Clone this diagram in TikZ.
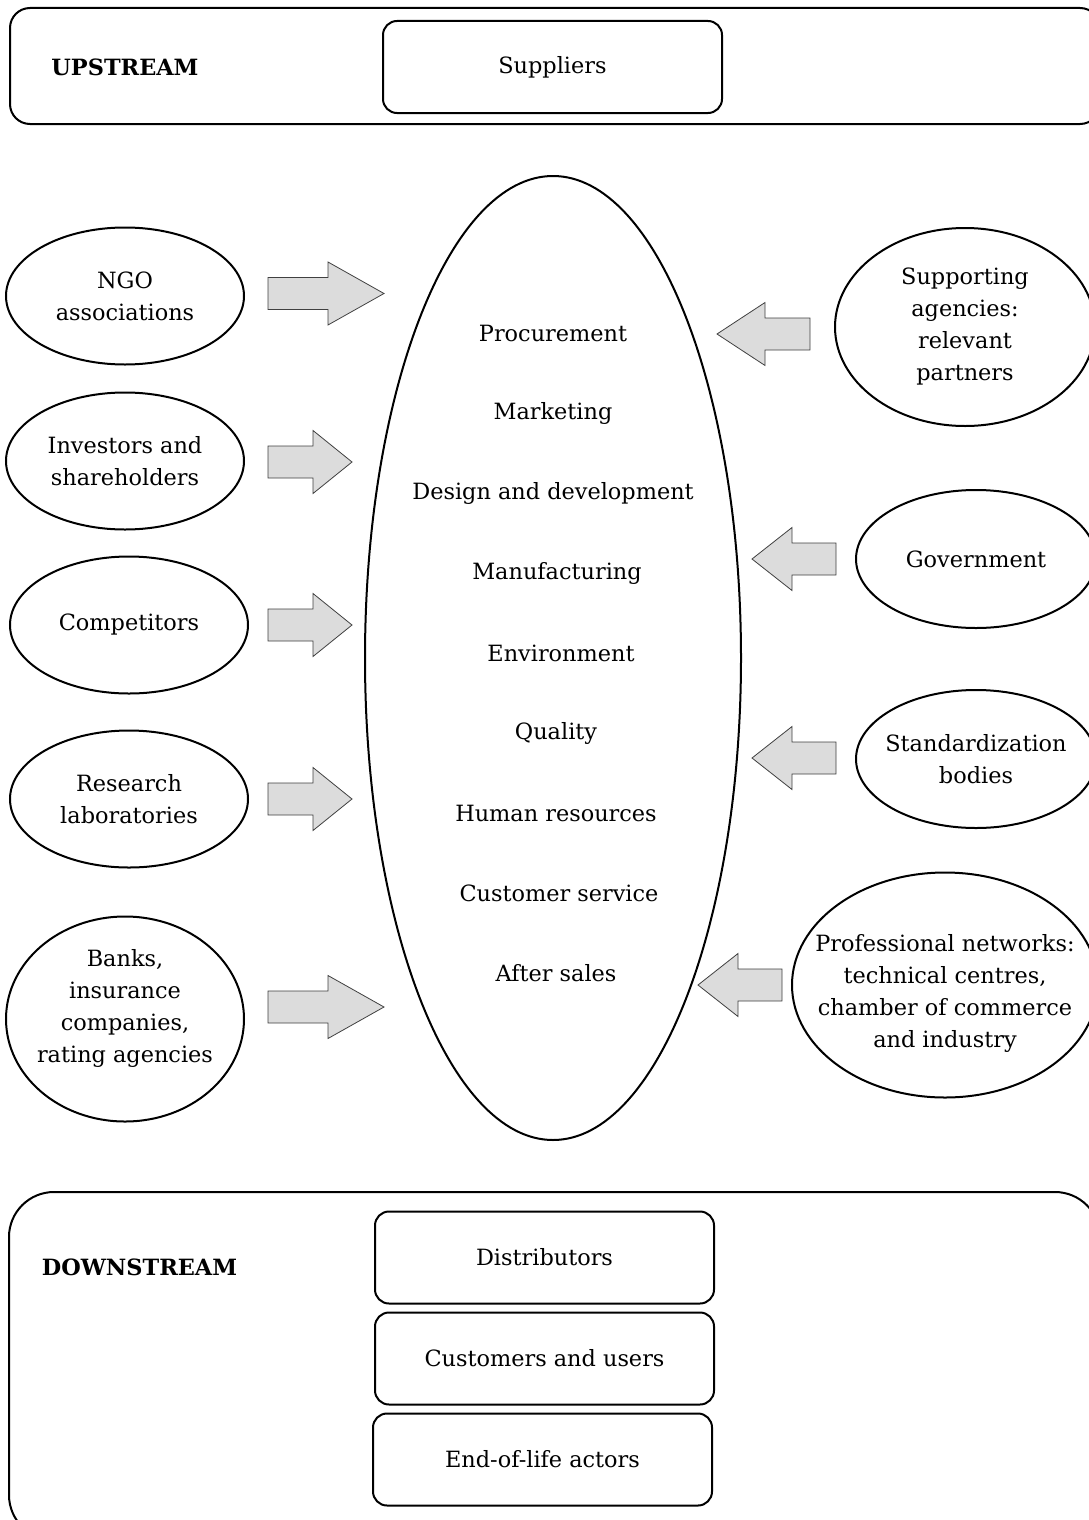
\documentclass[tikz,border=0pt]{standalone}
\usepackage{fontspec}
\setmainfont{DejaVu Serif}
\usetikzlibrary{positioning,shapes.geometric}
\definecolor{arrowgray}{RGB}{220,220,220}
% block arrow: tail x, head base x, tip x, middle y
\newcommand{\blockarrow}[4]{%
  \draw[blockarr] (#1,#4-16) -- (#2,#4-16) -- (#2,#4-31.5) -- (#3,#4)
    -- (#2,#4+31.5) -- (#2,#4+16) -- (#1,#4+16) -- cycle;}

\begin{document}
\begin{tikzpicture}[x=1pt, y=-1pt, node distance=80pt, on grid,
    font=\fontsize{22.4}{32}\selectfont,
    actor/.style={ellipse, draw, line width=2pt, inner sep=0pt,
      minimum width=238pt, minimum height=137pt},
    actortext/.style={align=center},
    box/.style={rectangle, rounded corners=14pt, draw, line width=2pt,
      minimum width=339pt, minimum height=92pt},
    frame/.style={rectangle, draw, line width=2pt},
    blockarr/.style={draw=black!75, line width=0.8pt, fill=arrowgray}]
  \useasboundingbox (0,0) rectangle (1088,1520);

  % upstream
  \node[frame, rounded corners=20pt, minimum width=1090pt, minimum height=116pt]
    (upstream) at (555,66) {};
  \node (uplabel) at (125,67) {\textbf{UPSTREAM}};
  \node[box] (suppliers) at (552.5,67) {Suppliers};

  % company
  \node[ellipse, draw, line width=2pt, minimum width=376pt, minimum height=964pt]
    (core) at (553,658) {};
  \node (procure) at (553,333) {Procurement};
  \node (market) [below=of procure] {Marketing};
  \node (design) [below=of market] {Design and development};
  \node (manuf) [below=of design, xshift=4pt] {Manufacturing};
  \node (environ) [below=of manuf, xshift=4pt] {Environment};
  \node (quality) [below=of environ, xshift=-5pt] {Quality};
  \node (human) [below=of quality] {Human resources};
  \node (custserv) [below=of human, xshift=3pt] {Customer service};
  \node (aftersales) [below=of custserv, xshift=-3pt] {After sales};

  % left side
  \node[actor] (ngo) at (125,296) {};
  \node[actortext] (ngotext) at (ngo) {NGO\\associations};
  \node[actor] (investors) at (125,461) {};
  \node[actortext] (investorstext) at (investors) {Investors and\\shareholders};
  \node[actor] (competitors) at (129,625) {};
  \node[actortext] (competitorstext) at (competitors) {Competitors};
  \node[actor] (research) at (129,799) {};
  \node[actortext] (researchtext) at (research) {Research\\laboratories};
  \node[actor, minimum height=205pt] (banks) at (125,1019) {};
  \node[actortext, yshift=11pt] (bankstext) at (banks)
    {Banks,\\insurance\\companies,\\rating agencies};
  \blockarrow{268}{328}{384}{293.5}
  \blockarrow{268}{313}{352}{462}
  \blockarrow{268}{313}{352}{625}
  \blockarrow{268}{313}{352}{799}
  \blockarrow{268}{328}{384}{1007}

  % right side
  \node[actor, minimum width=260pt, minimum height=198pt] (support) at (965,327) {};
  \node[actortext] (supporttext) at (support)
    {Supporting\\agencies:\\relevant\\partners};
  \node[actor, minimum width=240pt, minimum height=138pt] (govt) at (976,559) {};
  \node[actortext] (govttext) at (govt) {Government};
  \node[actor, minimum width=240pt, minimum height=138pt] (standard) at (976,759) {};
  \node[actortext] (standardtext) at (standard) {Standardization\\bodies};
  \node[actor, minimum width=306pt, minimum height=225pt] (network) at (945,985) {};
  \node[actortext, yshift=-8pt] (networktext) at (network)
    {Professional networks:\\technical centres,\\chamber of commerce\\and industry};
  \blockarrow{810}{765}{717}{334}
  \blockarrow{836}{792}{752}{559}
  \blockarrow{836}{792}{752}{758}
  \blockarrow{782}{738}{698}{985}

  % downstream
  \node[frame, rounded corners=45pt, minimum width=1091pt, minimum height=348pt]
    (downstream) at (554.5,1366) {};
  \node (downlabel) at (139.5,1267) {\textbf{DOWNSTREAM}};
  \node[box] (distrib) at (544.5,1257.5) {Distributors};
  \node[box, node distance=101pt] (customers) [below=of distrib] {Customers and users};
  \node[box, node distance=101pt] (endoflife) [below=of customers, xshift=-2pt]
    {End-of-life actors};
\end{tikzpicture}
\end{document}
